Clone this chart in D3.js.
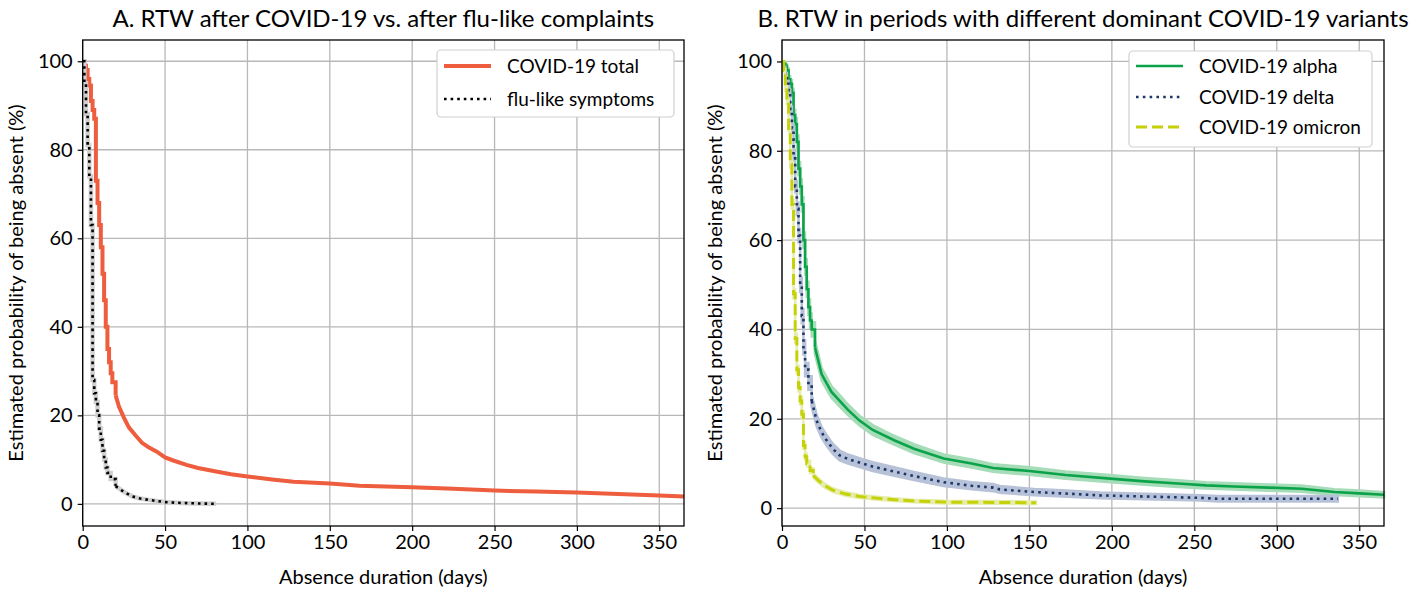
<!DOCTYPE html>
<html>
<head>
<meta charset="utf-8">
<script src="https://cdn.jsdelivr.net/npm/d3@7"></script>
<style>
  body { margin: 0; background: #fff; }
  svg { font-family: Lato, "Open Sans", sans-serif; }
</style>
</head>
<body>
<div id="chart"></div>
<script>
// Panel A: Kaplan-Meier style estimates
const covidDays = [0,1,2,3,4,5,6,7,8,9,10,11,12,13,14,15,16,17,18,20,22,25,28,32,36,40,45,50,55,63,70,81,90,100,115,128,150,168,200,225,250,275,300,325,350,365];
const covidSurv = [100,99,98,96,94.5,91,89,87,73,68,63,58,52,46,40,35,32,29.5,27.5,24.5,22,19.5,17.3,15.5,13.8,12.8,11.8,10.5,9.8,8.8,8.1,7.3,6.7,6.2,5.5,5.0,4.6,4.1,3.75,3.4,3.0,2.8,2.55,2.25,1.9,1.65];

const fluDays = [0,1,2,3,4,5,6,7,8,9,10,11,12,13,14,15,17,20,25,30,35,40,50,60,70,81];
const fluSurv = [100,95,88,81,74,63,28,25,23,20,17,14.5,12,10,8.2,7,5.6,4,2.7,1.7,1.2,0.9,0.4,0.2,0.1,0];

// Panel B: variants, with half-width of confidence band
const alphaDays = [0,1,2,3,4,5,6,7,8,9,10,11,12,13,14,15,16,17,18,20,22,24,27,30,35,40,47,55,68,80,98,115,128,150,172,199,220,240,257,274,295,315,335,350,365];
const alphaSurv = [100,99.5,99,98,96,95,93,88,86,82,76,72,68,60,54,49,45,42,40,36,33,30,28,26,24,22,19.6,17.5,15.2,13.3,11.1,10,9,8.3,7.4,6.6,6,5.5,5.1,4.85,4.6,4.35,3.6,3.3,3];
const alphaCI = [0,0.3,0.4,0.5,0.7,0.8,0.9,1.2,1.3,1.4,1.5,1.6,1.6,1.7,1.7,1.7,1.7,1.6,1.6,1.5,1.5,1.4,1.4,1.3,1.3,1.2,1.1,1.1,1,1,0.9,0.9,0.85,0.85,0.8,0.8,0.75,0.75,0.7,0.7,0.7,0.7,0.65,0.65,0.6];

const deltaDays = [0,1,2,3,4,5,6,7,8,9,10,11,12,13,14,16,18,21,24,27,31,35,40,47,55,68,80,98,115,128,132,153,170,193,220,254,264,337];
const deltaSurv = [100,98.5,97,95,93,89,85,79,72,67,61,50,43,36,31,28,24,19.6,17,15.2,13.2,11.8,11,10.2,9.3,8.2,7.2,5.8,5,4.6,4.2,3.6,3.3,2.85,2.6,2.3,2.1,2.1];
const deltaCI = [0,0.3,0.4,0.6,0.7,0.9,1.0,1.2,1.3,1.4,1.5,1.6,1.6,1.6,1.5,1.5,1.4,1.3,1.2,1.2,1.1,1.1,1.0,1.0,1.0,0.95,0.9,0.85,0.8,0.8,0.75,0.7,0.7,0.65,0.6,0.6,0.6,0.6];

const omicronDays = [0,1,2,3,4,5,6,7,8,9,10,11,12,13,14,15,17,19,22,26,31,38,47,58,68,80,98,128,154];
const omicronSurv = [100,98,94,91,85,77,68,48,38,31,27,24,21,14,11.5,10,8.4,7.3,6.2,5,4,3.2,2.6,2.2,1.9,1.6,1.35,1.28,1.2];
const omicronCI = [0,0.3,0.5,0.6,0.7,0.8,0.9,1,1,0.9,0.9,0.8,0.8,0.7,0.65,0.6,0.55,0.5,0.5,0.45,0.4,0.4,0.35,0.35,0.3,0.3,0.3,0.3,0.3];

const xTicks = [0,50,100,150,200,250,300,350];
const yTicks = [0,20,40,60,80,100];

const w = 1424, h = 589;
const svg = d3.select('#chart').append('svg').attr('width', w).attr('height', h);

function zip(days, surv, ci) {
    return days.map((d, i) => ({ day: d, s: surv[i], ci: ci ? ci[i] : 0 }));
}

// daily steps early on, the long tail has many tiny steps so draw it straight
function split(data) {
    const early = data.filter(d => d.day <= 20);
    const late = data.slice(early.length - 1);
    return [early, late];
}

function panel(opts) {
    const x = d3.scaleLinear().domain([0, 365]).range([opts.left, opts.right]);
    const y = d3.scaleLinear().domain(opts.yDomain).range([526, 40]);
    const g = svg.append('g');

    // grid
    g.append('g').selectAll('line').data(xTicks).join('line')
        .attr('x1', d => x(d)).attr('x2', d => x(d))
        .attr('y1', 40).attr('y2', 526)
        .attr('stroke', '#b8b8b8').attr('stroke-width', 1.3);
    g.append('g').selectAll('line').data(yTicks).join('line')
        .attr('x1', opts.left).attr('x2', opts.right)
        .attr('y1', d => y(d)).attr('y2', d => y(d))
        .attr('stroke', '#b8b8b8').attr('stroke-width', 1.3);

    const stepLine = d3.line().x(d => x(d.day)).y(d => y(d.s)).curve(d3.curveStepAfter);
    const flatLine = d3.line().x(d => x(d.day)).y(d => y(d.s));
    const stepArea = d3.area().x(d => x(d.day)).y0(d => y(d.s - d.ci)).y1(d => y(d.s + d.ci)).curve(d3.curveStepAfter);
    const flatArea = d3.area().x(d => x(d.day)).y0(d => y(d.s - d.ci)).y1(d => y(d.s + d.ci));

    opts.series.forEach(s => {
        const [early, late] = split(zip(s.days, s.surv, s.ci));
        if (s.ci) {
            [[early, stepArea], [late, flatArea]].forEach(([part, fn]) => {
                g.append('path').datum(part).attr('d', fn)
                    .attr('fill', s.band).attr('stroke', s.band).attr('stroke-width', 2.5);
            });
        }
        [[early, stepLine], [late, flatLine]].forEach(([part, fn]) => {
            if (s.halo) {
                g.append('path').datum(part).attr('d', fn)
                    .attr('fill', 'none').attr('stroke', s.halo).attr('stroke-width', 4.5);
            }
            g.append('path').datum(part).attr('d', fn)
                .attr('fill', 'none').attr('stroke', s.color)
                .attr('stroke-width', s.width)
                .attr('stroke-dasharray', s.dash || null);
        });
    });

    // frame
    g.append('rect').attr('x', opts.left).attr('y', 40)
        .attr('width', opts.right - opts.left).attr('height', 486)
        .attr('fill', 'none').attr('stroke', '#000').attr('stroke-width', 1.3);

    const xAxis = d3.axisBottom(x).tickValues(xTicks).tickSize(5).tickPadding(4).tickFormat(d3.format('d'));
    const yAxis = d3.axisLeft(y).tickValues(yTicks).tickSize(5).tickPadding(5).tickFormat(d3.format('d'));

    const gx = g.append('g').attr('transform', 'translate(0,526)').call(xAxis);
    const gy = g.append('g').attr('transform', `translate(${opts.left},0)`).call(yAxis);
    [gx, gy].forEach(a => {
        a.select('.domain').remove();
        a.selectAll('.tick line').attr('stroke', '#000').attr('stroke-width', 1.2);
        a.selectAll('.tick text').attr('fill', '#000').style('font-size', '20px').style('font-family', 'Lato, sans-serif');
    });

    const cx = (opts.left + opts.right) / 2;
    g.append('text').attr('x', cx).attr('y', 27).attr('text-anchor', 'middle')
        .style('font-size', '24px').text(opts.title);
    g.append('text').attr('x', cx).attr('y', 584).attr('text-anchor', 'middle')
        .style('font-size', '20px').text('Absence duration (days)');
    g.append('text').attr('transform', `translate(${opts.left - 60},283) rotate(-90)`)
        .attr('text-anchor', 'middle').style('font-size', '20px')
        .text('Estimated probability of being absent (%)');

    // legend
    const lg = opts.legend;
    g.append('rect').attr('x', lg.x).attr('y', lg.y).attr('width', lg.w).attr('height', lg.h)
        .attr('rx', 4).attr('fill', '#fff').attr('stroke', '#d0d0d0').attr('stroke-width', 1.2);
    opts.series.forEach((s, i) => {
        const yy = lg.rows[i];
        g.append('line').attr('x1', lg.x + 7).attr('x2', lg.x + 54).attr('y1', yy).attr('y2', yy)
            .attr('stroke', s.color).attr('stroke-width', s.width).attr('stroke-dasharray', s.dash || null);
        g.append('text').attr('x', lg.x + 70).attr('y', yy).attr('dy', '0.35em')
            .style('font-size', '19px').text(s.name);
    });
}

panel({
    left: 82.7, right: 684, yDomain: [-5, 104.8],
    title: 'A. RTW after COVID-19 vs. after flu-like complaints',
    legend: { x: 437, y: 50, w: 237, h: 67, rows: [66, 99] },
    series: [
        { name: 'COVID-19 total', days: covidDays, surv: covidSurv, color: '#ee5d3e', width: 4 },
        { name: 'flu-like symptoms', days: fluDays, surv: fluSurv, color: '#000', width: 2.6, dash: '2.6,4', halo: '#d0d0d0' }
    ]
});

panel({
    left: 782, right: 1384, yDomain: [-4, 104.8],
    title: 'B. RTW in periods with different dominant COVID-19 variants',
    legend: { x: 1129, y: 51, w: 243, h: 96, rows: [66, 97, 127] },
    series: [
        { name: 'COVID-19 alpha', days: alphaDays, surv: alphaSurv, ci: alphaCI, color: '#0ba34a', band: '#a6dcb8', width: 2.6 },
        { name: 'COVID-19 delta', days: deltaDays, surv: deltaSurv, ci: deltaCI, color: '#1d3768', band: '#b7c1d8', width: 2.6, dash: '2.6,4.2' },
        { name: 'COVID-19 omicron', days: omicronDays, surv: omicronSurv, ci: omicronCI, color: '#c5d20a', band: '#e6edaa', width: 3, dash: '11,5' }
    ]
});
</script>
</body>
</html>
